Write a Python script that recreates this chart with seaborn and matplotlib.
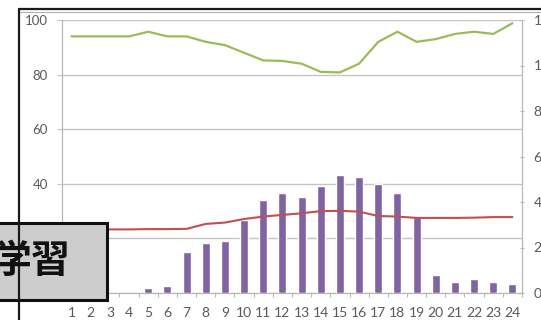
import numpy as np
import pandas as pd
import matplotlib
matplotlib.use("Agg")
import matplotlib.pyplot as plt
import seaborn as sns
from matplotlib.patches import Rectangle
from matplotlib.lines import Line2D
from matplotlib.ticker import FixedLocator

# ---- data ----
hours = list(range(1, 25))
green_line = [94, 94, 94, 94, 95.7, 94, 94, 92, 90.8, 88, 85.2, 85, 84, 81, 80.8,
              84, 92, 95.7, 92, 93, 94.9, 95.7, 94.9, 98.8]
red_line = [23.3, 23.3, 23.3, 23.3, 23.4, 23.4, 23.5, 25.3, 25.8, 27.1, 28.0, 28.6,
            29.2, 30.0, 30.1, 29.8, 28.2, 28.0, 27.5, 27.5, 27.5, 27.6, 27.8, 27.8]
bar_values = [0, 0, 0, 0, 0.2, 0.3, 1.8, 2.2, 2.3, 3.2, 4.1, 4.4, 4.2, 4.7, 5.2,
              5.1, 4.8, 4.4, 3.35, 0.8, 0.47, 0.6, 0.47, 0.4]
left_ticks = [0, 20, 40, 60, 80, 100]
right_ticks = [0, 2, 4, 6, 8, 10, 12]
label_text = "学習"

df = pd.DataFrame({"hour": hours, "green": green_line, "red": red_line, "bar": bar_values})

sns.set_style("white")
plt.rcParams["font.family"] = ["Lato", "DejaVu Sans"]

W, H = 541, 320
fig = plt.figure(figsize=(W / 100, H / 100), dpi=100)
fig.patch.set_facecolor("white")

ax1 = fig.add_axes([62 / W, 27 / H, 460 / W, 273 / H])
ax2 = ax1.twinx()
ax3 = ax1.twinx()

label_color = "#595959"
axis_gray = "#b8b8b8"

# host axis: gridlines and left labels
ax1.set_ylim(0, 100)
ax1.set_xlim(0.5, 24.5)
ax1.yaxis.set_major_locator(FixedLocator(left_ticks))
ax1.yaxis.grid(True, color="#c4c4c4", lw=1.0)
ax1.xaxis.grid(False)
ax1.tick_params(axis="y", which="major", left=True, length=3.6, width=0.8, color="#c4c4c4",
                pad=6.5, labelsize=9.5, labelcolor=label_color)
ax1.set_xticks(hours)
ax1.set_xticklabels([str(h) for h in hours])
ax1.xaxis.set_minor_locator(FixedLocator(np.arange(0.5, 25, 1)))
ax1.tick_params(axis="x", which="major", bottom=True, length=0, pad=10, labelsize=10,
                labelcolor=label_color)
ax1.tick_params(axis="x", which="minor", bottom=True, length=3, width=0.8, color=axis_gray)
for s in ["top", "right"]:
    ax1.spines[s].set_visible(False)
for s in ["left", "bottom"]:
    ax1.spines[s].set_color(axis_gray)
    ax1.spines[s].set_linewidth(0.9)

# bars on secondary axis
sns.barplot(data=df, x="hour", y="bar", native_scale=True, width=0.42, color="#8064A2",
            saturation=1, errorbar=None, ax=ax2, zorder=2)
ax2.set_ylim(0, 12)
ax2.set_xlim(0.5, 24.5)
ax2.yaxis.set_major_locator(FixedLocator(right_ticks))
ax2.set_yticklabels([str(t) for t in right_ticks])
ax2.set_ylabel("")
ax2.set_xlabel("")
ax2.tick_params(axis="y", right=True, direction="inout", length=3.5, width=0.8, color=axis_gray,
                pad=6.5, labelsize=10, labelcolor=label_color)
for s in ["top", "left", "bottom"]:
    ax2.spines[s].set_visible(False)
ax2.spines["right"].set_color(axis_gray)
ax2.spines["right"].set_linewidth(0.9)
ax2.grid(False)

# lines on top axis
sns.lineplot(data=df, x="hour", y="green", color="#9BBB59", lw=1.6, ax=ax3)
sns.lineplot(data=df, x="hour", y="red", color="#C0504D", lw=1.5, ax=ax3)
ax3.set_ylim(0, 100)
ax3.set_xlim(0.5, 24.5)
ax3.set_ylabel("")
ax3.set_xlabel("")
ax3.set_yticks([])
ax3.grid(False)
for s in ax3.spines.values():
    s.set_visible(False)
ax3.patch.set_visible(False)
ax2.patch.set_visible(False)
ax1.set_ylabel("")
ax1.set_xlabel("")

# outer frame of the screenshot
fig.add_artist(Line2D([19 / W, 1.0], [1 - 9 / H, 1 - 9 / H], color="#1a1a1a", lw=1.6))
fig.add_artist(Line2D([19 / W, 1.0], [1 - 11.5 / H, 1 - 11.5 / H], color="#b0b0b0", lw=0.8))
fig.add_artist(Line2D([19 / W, 19 / W], [0, 1 - 9 / H], color="#1a1a1a", lw=1.6))

# label box
box = Rectangle((-0.02, 20 / H), 0.02 + 107 / W, 77 / H, transform=fig.transFigure,
                facecolor="#cdcdcd", edgecolor="#111111", lw=2.2)
fig.add_artist(box)
fig.text(32 / W, 1 - 262 / H, label_text, ha="center", va="center", fontsize=28,
         fontweight="bold", color="#111111", family=["Noto Sans CJK JP", "DejaVu Sans"])

fig.savefig("out.png", dpi=100)
